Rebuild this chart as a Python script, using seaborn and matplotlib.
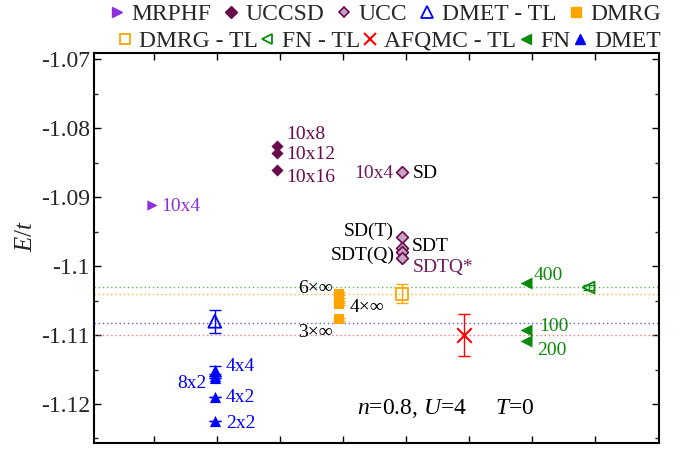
import matplotlib
matplotlib.use("Agg")
import matplotlib.pyplot as plt
import seaborn as sns
import numpy as np
from matplotlib.lines import Line2D
from matplotlib.ticker import MultipleLocator, FuncFormatter
from matplotlib.font_manager import FontProperties

# ---------------- data ----------------
mrphf_x = [1]
mrphf_y = [-1.0911]

uccsd_x = [3, 3, 3]
uccsd_y = [-1.0826, -1.0836, -1.0861]

ucc_x = [5, 5, 5, 5, 5]
ucc_y = [-1.0863, -1.0958, -1.0973, -1.0980, -1.0988]

dmet_tl_x = [2]
dmet_tl_y = [-1.1080]
dmet_tl_err = [0.0017]

dmrg_x = [4, 4, 4, 4]
dmrg_y = [-1.1040, -1.1048, -1.1055, -1.1077]
dmrg_err = [0.0002, 0.0002, 0.0002, 0.0002]

dmrg_tl_x = [5]
dmrg_tl_y = [-1.1040]
dmrg_tl_err = [0.0014]

fn_tl_x = [8]
fn_tl_y = [-1.1031]
fn_tl_err = [0.0003]

afqmc_tl_x = [6]
afqmc_tl_y = [-1.1100]
afqmc_tl_err = [0.0030]

fn_x = [7, 7, 7]
fn_y = [-1.1025, -1.1093, -1.1109]

dmet_x = [2, 2, 2, 2, 2]
dmet_y = [-1.1151, -1.1159, -1.1163, -1.1190, -1.1224]
dmet_err = [0.0006, 0.0, 0.0, 0.0, 0.0]

# thermodynamic-limit reference lines
ref_lines = [-1.1031, -1.1040, -1.1082, -1.1100]

legend_labels = ["MRPHF", "UCCSD", "UCC", "DMET - TL", "DMRG",
                 "DMRG - TL", "FN - TL", "AFQMC - TL", "FN", "DMET"]

# ---------------- style ----------------
sns.set_theme(style="ticks")
plt.rcParams["font.family"] = "serif"
plt.rcParams["font.serif"] = ["Liberation Serif", "DejaVu Serif"]
plt.rcParams["mathtext.fontset"] = "custom"
plt.rcParams["mathtext.rm"] = "Liberation Serif"
plt.rcParams["mathtext.it"] = "Liberation Serif:italic"
plt.rcParams["axes.unicode_minus"] = False

SERIF = "Liberation Serif"

C_MRPHF = "#8d2fdf"
C_UCCSD = "#6a0b4b"
C_UCC_FACE = "#c9a3c6"
C_UCC_TXT = "#6e1a5e"
C_DMET = "#0000ff"
C_DMRG = "#ffa500"
C_FN = "#0a8a0a"
C_AFQMC = "#ff0000"
ref_colors = ["#33aa33", "#ffa500", "#3333ff", "#ff5555"]

fig = plt.figure(figsize=(6.81, 4.49), dpi=100)
ax = fig.add_axes([94 / 681, 6 / 449, 565 / 681, 390.3 / 449])

# reference dotted lines
for yv, c in zip(ref_lines, ref_colors):
    ax.axhline(yv, color=c, ls=(0, (1, 2)), lw=1.0, alpha=0.8, zorder=1)

# error bars
eb = dict(fmt="none", elinewidth=1.0, capsize=4, capthick=1.0, zorder=2)
ax.errorbar(dmet_tl_x, dmet_tl_y, yerr=dmet_tl_err, ecolor=C_DMET, **eb)
ax.errorbar(dmrg_tl_x, dmrg_tl_y, yerr=dmrg_tl_err, ecolor=C_DMRG, **eb)
ax.errorbar(fn_tl_x, fn_tl_y, yerr=fn_tl_err, ecolor=C_FN, **eb)
ax.errorbar(afqmc_tl_x, afqmc_tl_y, yerr=afqmc_tl_err, ecolor=C_AFQMC, **eb)
ax.errorbar(dmet_x, dmet_y, yerr=dmet_err, ecolor=C_DMET, **eb)
ax.errorbar(dmrg_x, dmrg_y, yerr=dmrg_err, ecolor=C_DMRG, **eb)

# points (seaborn)
sns.scatterplot(x=mrphf_x, y=mrphf_y, marker=">", s=55, color=C_MRPHF,
                edgecolor=C_MRPHF, linewidth=0, ax=ax, zorder=3)
sns.scatterplot(x=uccsd_x, y=uccsd_y, marker="D", s=38, color=C_UCCSD,
                edgecolor=C_UCCSD, linewidth=0, ax=ax, zorder=3)
sns.scatterplot(x=ucc_x, y=ucc_y, marker="D", s=36, color=C_UCC_FACE,
                edgecolor=C_UCCSD, linewidth=1.2, ax=ax, zorder=3)
sns.scatterplot(x=dmet_tl_x, y=dmet_tl_y, marker="^", s=85, color="none",
                edgecolor=C_DMET, linewidth=1.3, ax=ax, zorder=3)
sns.scatterplot(x=dmrg_x, y=dmrg_y, marker="s", s=58, color=C_DMRG,
                edgecolor=C_DMRG, linewidth=0, ax=ax, zorder=3)
sns.scatterplot(x=dmrg_tl_x, y=dmrg_tl_y, marker="s", s=75, color="none",
                edgecolor=C_DMRG, linewidth=1.3, ax=ax, zorder=3)
sns.scatterplot(x=fn_tl_x, y=fn_tl_y, marker="<", s=70, color="none",
                edgecolor=C_FN, linewidth=1.3, ax=ax, zorder=3)
sns.scatterplot(x=afqmc_tl_x, y=afqmc_tl_y, marker="x", s=110, color=C_AFQMC,
                linewidth=1.5, ax=ax, zorder=3)
sns.scatterplot(x=fn_x, y=fn_y, marker="<", s=75, color=C_FN,
                edgecolor=C_FN, linewidth=0, ax=ax, zorder=3)
sns.scatterplot(x=dmet_x, y=dmet_y, marker="^", s=65, color=C_DMET,
                edgecolor=C_DMET, linewidth=0, ax=ax, zorder=3)

# annotations
fs = 14
def note(x, y, s, c, ha):
    ax.text(x, y, s, color=c, fontsize=fs, ha=ha, va="center", family=SERIF)

note(1.14, mrphf_y[0] - 0.0002, "10x4", C_MRPHF, "left")
note(3.15, -1.0809, "10x8", C_UCCSD, "left")
note(3.15, -1.0838, "10x12", C_UCCSD, "left")
note(3.15, -1.0871, "10x16", C_UCCSD, "left")
note(4.87, -1.0865, "10x4", C_UCC_TXT, "right")
note(5.18, -1.0865, "SD", "black", "left")
note(4.88, -1.0950, "SD(T)", "black", "right")
note(4.89, -1.0984, "SDT(Q)", "black", "right")
note(5.16, -1.0972, "SDT", "black", "left")
note(5.17, -1.1002, "SDTQ*", C_UCC_TXT, "left")
note(3.89, -1.1033, "6×∞", "black", "right")
note(4.16, -1.1060, "4×∞", "black", "left")
note(3.89, -1.1096, "3×∞", "black", "right")
note(2.18, -1.1146, "4x4", C_DMET, "left")
note(1.87, -1.1170, "8x2", C_DMET, "right")
note(2.18, -1.1190, "4x2", C_DMET, "left")
note(2.18, -1.1228, "2x2", C_DMET, "left")
note(7.12, -1.1014, "400", C_FN, "left")
note(7.20, -1.1088, "100", C_FN, "left")
note(7.17, -1.1123, "200", C_FN, "left")
ax.text(4.28, -1.1207, r"$n$=0.8, $U$=4     $T$=0", color="black", fontsize=17,
        ha="left", va="center", family=SERIF)

# axes
ax.set_xlim(0.061, 9.13)
ax.set_ylim(-1.12566, -1.06904)
ax.set_xticks([1.02, 2.03, 3.04, 4.05, 5.07, 6.08, 7.09, 8.10])
ax.set_xticklabels([])
ax.yaxis.set_major_locator(MultipleLocator(0.01))
ax.yaxis.set_minor_locator(MultipleLocator(0.005))
ax.yaxis.set_major_formatter(FuncFormatter(lambda v, p: "%g" % round(v, 4)))
ax.tick_params(axis="both", which="major", direction="in", length=5, width=1,
               top=True, right=True, labelsize=17, pad=3, color="black")
ax.tick_params(axis="y", which="minor", direction="in", length=3, width=1,
               right=True, left=True)
for lbl in ax.get_yticklabels():
    lbl.set_family(SERIF)
for sp in ax.spines.values():
    sp.set_linewidth(1.5)
    sp.set_color("black")
ax.set_xlabel("")
ax.set_ylabel(r"$E/t$", fontsize=18)
ax.yaxis.set_label_coords(-0.10, 0.53)
ax.grid(False)

# legend (two rows)
h = [
    Line2D([], [], ls="none", marker=">", ms=7, color=C_MRPHF, mec=C_MRPHF),
    Line2D([], [], ls="none", marker="D", ms=6, color=C_UCCSD, mec=C_UCCSD),
    Line2D([], [], ls="none", marker="D", ms=5.5, mfc=C_UCC_FACE, mec=C_UCCSD, mew=1.2),
    Line2D([], [], ls="none", marker="^", ms=8, mfc="none", mec=C_DMET, mew=1.3),
    Line2D([], [], ls="none", marker="s", ms=6.5, color=C_DMRG, mec=C_DMRG),
    Line2D([], [], ls="none", marker="s", ms=7, mfc="none", mec=C_DMRG, mew=1.3),
    Line2D([], [], ls="none", marker="<", ms=7.5, mfc="none", mec=C_FN, mew=1.3),
    Line2D([], [], ls="none", marker="x", ms=9, color=C_AFQMC, mew=1.5),
    Line2D([], [], ls="none", marker="<", ms=7.5, color=C_FN, mec=C_FN),
    Line2D([], [], ls="none", marker="^", ms=7, color=C_DMET, mec=C_DMET),
]
lp = FontProperties(family=SERIF, size=17)
common = dict(frameon=False, prop=lp, handlelength=0.6, handletextpad=0.3,
              borderpad=0, borderaxespad=0, ncol=5, loc="center right")
leg1 = fig.legend(h[:5], legend_labels[:5], bbox_to_anchor=(661 / 681, 1 - 14 / 449),
                  columnspacing=0.55, **common)
leg2 = fig.legend(h[5:], legend_labels[5:], bbox_to_anchor=(661 / 681, 1 - 41 / 449),
                  columnspacing=0.12, **common)

fig.savefig("out.png", dpi=100)
